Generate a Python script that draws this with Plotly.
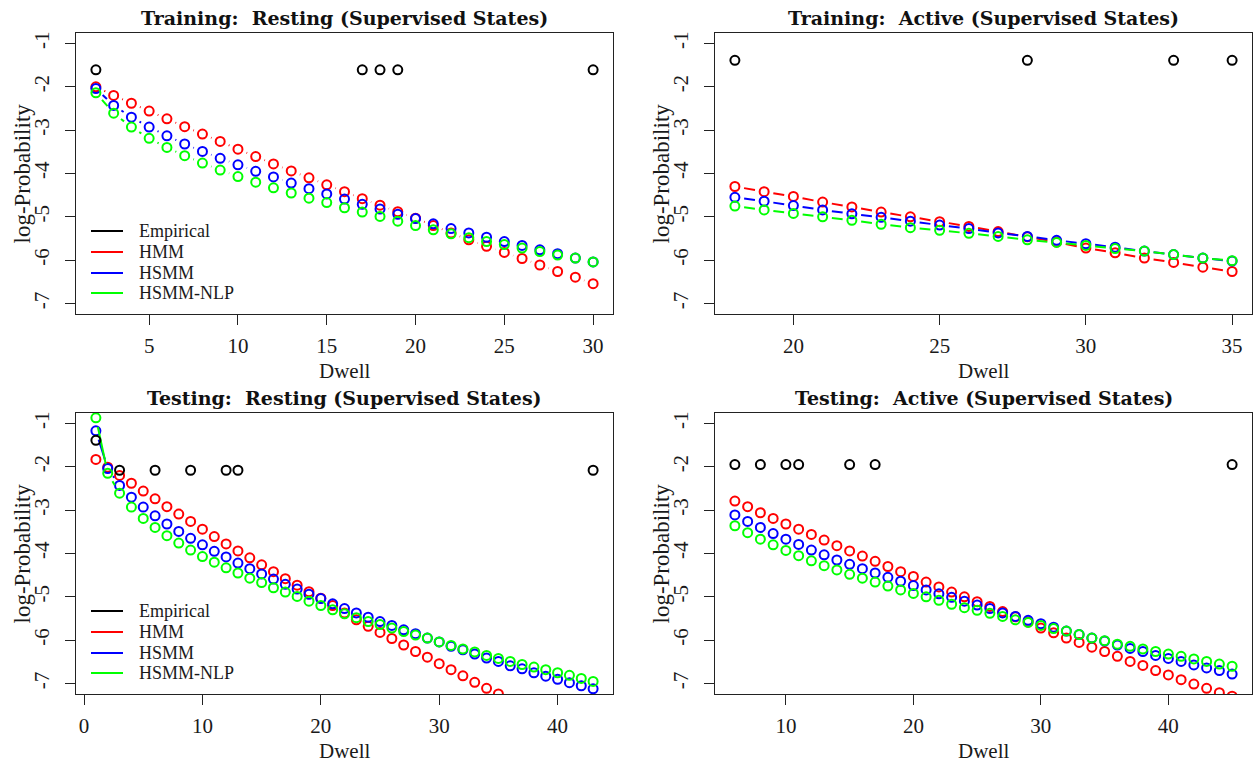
import math
import plotly.graph_objects as go

# ---------------- data ----------------
# Training: Resting
tr_rest_x = list(range(2, 31))
tr_rest_hmm = [-2.00, -2.20, -2.38, -2.56, -2.74, -2.92, -3.09, -3.26, -3.44, -3.61,
               -3.78, -3.94, -4.10, -4.26, -4.42, -4.58, -4.73, -4.88, -5.03, -5.20,
               -5.37, -5.53, -5.68, -5.82, -5.96, -6.11, -6.26, -6.39, -6.54]
tr_rest_hsmm = [-2.04, -2.43, -2.70, -2.93, -3.13, -3.32, -3.49, -3.65, -3.80, -3.95,
                -4.08, -4.22, -4.35, -4.47, -4.59, -4.71, -4.82, -4.94, -5.04, -5.16,
                -5.27, -5.37, -5.47, -5.57, -5.66, -5.76, -5.85, -5.95, -6.04]
tr_rest_nlp = [-2.14, -2.61, -2.93, -3.19, -3.40, -3.59, -3.76, -3.92, -4.07, -4.20,
               -4.33, -4.45, -4.57, -4.67, -4.79, -4.89, -4.99, -5.10, -5.20, -5.30,
               -5.39, -5.48, -5.57, -5.64, -5.72, -5.80, -5.88, -5.95, -6.04]
tr_rest_emp_x = [2, 17, 18, 19, 30]
tr_rest_emp_y = [-1.61, -1.61, -1.61, -1.61, -1.61]

# Training: Active
tr_act_x = list(range(18, 36))
tr_act_hmm = [-4.30, -4.42, -4.53, -4.66, -4.77, -4.89, -5.00, -5.11, -5.22, -5.34,
              -5.46, -5.58, -5.72, -5.83, -5.95, -6.05, -6.16, -6.26]
tr_act_hsmm = [-4.55, -4.64, -4.74, -4.84, -4.93, -5.01, -5.10, -5.19, -5.27, -5.37,
               -5.45, -5.54, -5.62, -5.70, -5.79, -5.87, -5.95, -6.02]
tr_act_nlp = [-4.75, -4.84, -4.92, -5.00, -5.08, -5.17, -5.25, -5.31, -5.38, -5.45,
              -5.53, -5.59, -5.66, -5.73, -5.79, -5.87, -5.95, -6.01]
tr_act_emp_x = [18, 28, 33, 35]
tr_act_emp_y = [-1.39, -1.39, -1.39, -1.39]

# Testing: Resting
te_rest_x = list(range(1, 44))
te_rest_hmm = [-1.83, -2.01, -2.20, -2.38, -2.56, -2.74, -2.92, -3.09, -3.26, -3.44,
               -3.61, -3.78, -3.94, -4.10, -4.26, -4.42, -4.58, -4.73, -4.88, -5.03,
               -5.20, -5.37, -5.53, -5.68, -5.82, -5.96, -6.11, -6.26, -6.39, -6.54,
               -6.68, -6.82, -6.97, -7.11, -7.24]
te_rest_hsmm = [-1.17, -2.04, -2.43, -2.70, -2.93, -3.13, -3.32, -3.49, -3.65, -3.80,
                -3.95, -4.08, -4.22, -4.35, -4.47, -4.59, -4.71, -4.82, -4.94, -5.04,
                -5.16, -5.27, -5.37, -5.47, -5.57, -5.66, -5.76, -5.85, -5.95, -6.04,
                -6.14, -6.22, -6.32, -6.41, -6.49, -6.59, -6.66, -6.75, -6.83, -6.90,
                -6.98, -7.05, -7.12]
te_rest_nlp = [-0.87, -2.15, -2.61, -2.93, -3.19, -3.40, -3.59, -3.76, -3.92, -4.07,
               -4.20, -4.33, -4.45, -4.57, -4.67, -4.79, -4.89, -4.99, -5.10, -5.20,
               -5.30, -5.39, -5.48, -5.57, -5.64, -5.72, -5.80, -5.88, -5.95, -6.04,
               -6.12, -6.20, -6.27, -6.35, -6.42, -6.49, -6.56, -6.62, -6.68, -6.75,
               -6.81, -6.88, -6.95]
te_rest_emp_x = [1, 3, 6, 9, 12, 13, 43]
te_rest_emp_y = [-1.39, -2.08, -2.08, -2.08, -2.08, -2.08, -2.08]

# Testing: Active
te_act_x = list(range(6, 46))
te_act_hmm = [-2.79, -2.92, -3.06, -3.19, -3.32, -3.44, -3.56, -3.69, -3.82, -3.94,
              -4.06, -4.18, -4.30, -4.42, -4.53, -4.66, -4.77, -4.89, -5.00, -5.11,
              -5.22, -5.34, -5.46, -5.58, -5.72, -5.83, -5.95, -6.05, -6.16, -6.26,
              -6.37, -6.49, -6.58, -6.70, -6.80, -6.91, -7.01, -7.11, -7.21, -7.29]
te_act_hsmm = [-3.11, -3.26, -3.40, -3.54, -3.67, -3.79, -3.92, -4.03, -4.15, -4.25,
               -4.35, -4.45, -4.55, -4.64, -4.74, -4.84, -4.93, -5.01, -5.10, -5.19,
               -5.27, -5.37, -5.45, -5.54, -5.62, -5.70, -5.79, -5.87, -5.95, -6.02,
               -6.11, -6.19, -6.26, -6.35, -6.42, -6.49, -6.57, -6.64, -6.70, -6.78]
te_act_nlp = [-3.36, -3.52, -3.67, -3.80, -3.93, -4.05, -4.17, -4.28, -4.38, -4.48,
              -4.57, -4.66, -4.75, -4.84, -4.92, -5.00, -5.08, -5.17, -5.25, -5.31,
              -5.38, -5.45, -5.53, -5.59, -5.66, -5.73, -5.79, -5.87, -5.95, -6.01,
              -6.09, -6.14, -6.20, -6.26, -6.32, -6.37, -6.43, -6.49, -6.55, -6.60]
te_act_emp_x = [6, 8, 10, 11, 15, 17, 45]
te_act_emp_y = [-1.95, -1.95, -1.95, -1.95, -1.95, -1.95, -1.95]

# axis ticks / labels
tr_rest_xticks = [5, 10, 15, 20, 25, 30]
tr_act_xticks = [20, 25, 30, 35]
te_rest_xticks = [0, 10, 20, 30, 40]
te_act_xticks = [10, 20, 30, 40]
y_ticks = [-7, -6, -5, -4, -3, -2, -1]
y_ticktext = ["-7", "-6", "-5", "-4", "-3", "-2", "-1"]
y_limits = [-7, -1]

titles = ["Training:  Resting (Supervised States)", "Training:  Active (Supervised States)",
          "Testing:  Resting (Supervised States)", "Testing:  Active (Supervised States)"]
series_names = ["Empirical", "HMM", "HSMM", "HSMM-NLP"]
series_colors = ["#000000", "#FF0000", "#0000FF", "#00FF00"]

# ---------------- layout geometry (pixels) ----------------
FW, FH = 1254, 763
boxes = [  # left, right, top, bottom
    (76, 613, 33, 314),
    (715, 1252, 33, 314),
    (76, 613, 413, 694),
    (715, 1252, 413, 694),
]
GAP_PX = 9.3  # type="b" gap around points
LEGEND_ROWS = [83, 62, 41, 21]  # row offsets above the box bottom (px)

panels = [
    (tr_rest_x, tr_rest_hmm, tr_rest_hsmm, tr_rest_nlp, tr_rest_emp_x, tr_rest_emp_y, tr_rest_xticks),
    (tr_act_x, tr_act_hmm, tr_act_hsmm, tr_act_nlp, tr_act_emp_x, tr_act_emp_y, tr_act_xticks),
    (te_rest_x, te_rest_hmm, te_rest_hsmm, te_rest_nlp, te_rest_emp_x, te_rest_emp_y, te_rest_xticks),
    (te_act_x, te_act_hmm, te_act_hsmm, te_act_nlp, te_act_emp_x, te_act_emp_y, te_act_xticks),
]


def r_range(lo, hi):
    d = (hi - lo) * 0.04
    return [lo - d, hi + d]


def gapped(xs, ys, sx, sy):
    ox, oy = [], []
    for i in range(len(ys) - 1):
        x1, y1, x2, y2 = xs[i], ys[i], xs[i + 1], ys[i + 1]
        dxp, dyp = (x2 - x1) * sx, (y2 - y1) * sy
        d = math.hypot(dxp, dyp)
        if d > 2 * GAP_PX:
            f = GAP_PX / d
            ox += [x1 + (x2 - x1) * f, x2 - (x2 - x1) * f, None]
            oy += [y1 + (y2 - y1) * f, y2 - (y2 - y1) * f, None]
    return ox, oy


SERIF = "Liberation Serif"
TXT = "#1a1a1a"
fig = go.Figure()
layout = {}
annotations = []
shapes = []

for p, (xs, hmm, hsmm, nlp, ex, ey, xticks) in enumerate(panels):
    left, right, top, bottom = boxes[p]
    allx = list(xs) + list(ex)
    xr = r_range(min(allx), max(allx))
    yr = r_range(*y_limits)
    sx = (right - left) / (xr[1] - xr[0])
    sy = (bottom - top) / (yr[1] - yr[0])
    xa = "x" if p == 0 else f"x{p+1}"
    ya = "y" if p == 0 else f"y{p+1}"
    for ys, col in zip([hmm, hsmm, nlp], series_colors[1:]):
        n = min(len(xs), len(ys))
        lx, ly = gapped(xs[:n], ys[:n], sx, sy)
        fig.add_trace(go.Scatter(x=lx, y=ly, mode="lines", xaxis=xa, yaxis=ya,
                                 line=dict(color=col, width=2), showlegend=False,
                                 hoverinfo="skip"))
        fig.add_trace(go.Scatter(x=xs[:n], y=ys, mode="markers", xaxis=xa, yaxis=ya,
                                 marker=dict(symbol="circle-open", size=9, color=col,
                                             line=dict(width=2, color=col)),
                                 showlegend=False))
    fig.add_trace(go.Scatter(x=ex, y=ey, mode="markers", xaxis=xa, yaxis=ya,
                             marker=dict(symbol="circle-open", size=9, color="black",
                                         line=dict(width=2, color="black")),
                             showlegend=False))
    if p in (0, 2):
        # legend drawn like R's legend(bty="n"): line samples + labels
        for nm, col, off in zip(series_names, series_colors, LEGEND_ROWS):
            yy = 1 - (bottom - off) / FH
            shapes.append(dict(type="line", xref="paper", yref="paper",
                               x0=(left + 15) / FW, x1=(left + 47) / FW, y0=yy, y1=yy,
                               line=dict(color=col, width=2)))
            annotations.append(dict(text=nm, x=(left + 61) / FW, y=yy, xref="paper", yref="paper",
                                    showarrow=False, xanchor="left", yanchor="middle",
                                    font=dict(family=SERIF, size=18, color=TXT)))

    common = dict(showline=True, mirror=True, linecolor="#222222", linewidth=1.2,
                  ticks="outside", ticklen=10, tickwidth=1.2, tickcolor="#222222",
                  showgrid=False, zeroline=False, automargin=False,
                  tickfont=dict(family=SERIF, size=21, color=TXT))
    layout["xaxis" if p == 0 else f"xaxis{p+1}"] = dict(
        common, domain=[left / FW, right / FW], range=xr, anchor=ya,
        tickmode="array", tickvals=xticks, ticktext=[str(t) for t in xticks],
        ticklabelstandoff=3)
    layout["yaxis" if p == 0 else f"yaxis{p+1}"] = dict(
        common, domain=[1 - bottom / FH, 1 - top / FH], range=yr, anchor=xa,
        tickmode="array", tickvals=y_ticks, ticktext=y_ticktext, tickangle=-90,
        ticklabelstandoff=8)
    cx = (left + right) / 2
    annotations.append(dict(text="<b>" + titles[p] + "</b>", x=cx / FW, y=1 - (top - 15) / FH,
                            xref="paper", yref="paper", showarrow=False, xanchor="center",
                            yanchor="middle", font=dict(family="DejaVu Serif", size=19, color="#111111")))
    annotations.append(dict(text="Dwell", x=cx / FW, y=1 - (bottom + 57) / FH,
                            xref="paper", yref="paper", showarrow=False, xanchor="center",
                            yanchor="middle", font=dict(family=SERIF, size=21, color=TXT)))
    annotations.append(dict(text="log-Probability", x=(left - 54) / FW, y=1 - ((top + bottom) / 2) / FH,
                            xref="paper", yref="paper", showarrow=False, xanchor="center",
                            yanchor="middle", textangle=-90,
                            font=dict(family=SERIF, size=23, color=TXT)))

fig.update_layout(width=FW, height=FH, margin=dict(l=0, r=0, t=0, b=0),
                  paper_bgcolor="white", plot_bgcolor="white", showlegend=False,
                  annotations=annotations, shapes=shapes, **layout)
fig.write_html("out.html")
